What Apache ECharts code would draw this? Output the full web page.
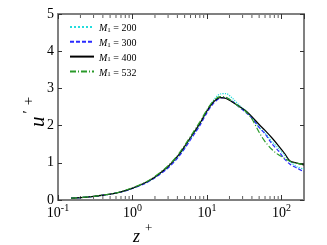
<!DOCTYPE html>
<html>
<head>
<meta charset="utf-8">
<script src="https://cdn.jsdelivr.net/npm/echarts@6/dist/echarts.min.js"></script>
<style>
  html, body { margin: 0; padding: 0; background: #fff; }
  #main { width: 327px; height: 245px; }
</style>
</head>
<body>
<div id="main"></div>
<script>
// z+ positions (shared by all runs)
var zPlus = [0.15, 0.2, 0.3, 0.5, 0.7, 1, 1.5, 2, 3, 4, 5, 6, 7, 8, 10, 12, 15, 18, 22, 27, 33, 40, 50, 60, 75, 90, 110, 130, 160, 200];

// u'+ for each M1
var m200 = [0.05, 0.065, 0.097, 0.157, 0.218, 0.315, 0.46, 0.61, 0.88, 1.14, 1.4, 1.64, 1.85, 2.04, 2.4, 2.66, 2.85, 2.86, 2.73, 2.55, 2.4, 2.22, 1.96, 1.8, 1.56, 1.4, 1.2, 1.03, 0.9, 0.83];
var m300 = [0.05, 0.064, 0.095, 0.155, 0.215, 0.31, 0.45, 0.6, 0.86, 1.12, 1.38, 1.62, 1.82, 2.0, 2.35, 2.58, 2.74, 2.75, 2.65, 2.5, 2.36, 2.2, 1.95, 1.78, 1.5, 1.33, 1.1, 0.96, 0.86, 0.76];
var m400 = [0.05, 0.065, 0.1, 0.16, 0.22, 0.32, 0.47, 0.62, 0.9, 1.17, 1.44, 1.68, 1.88, 2.06, 2.4, 2.62, 2.75, 2.73, 2.63, 2.52, 2.4, 2.24, 2.03, 1.87, 1.66, 1.47, 1.25, 1.05, 0.99, 0.94];
var m532 = [0.05, 0.066, 0.1, 0.162, 0.225, 0.33, 0.48, 0.635, 0.92, 1.2, 1.47, 1.71, 1.92, 2.1, 2.43, 2.65, 2.78, 2.76, 2.65, 2.5, 2.38, 2.18, 1.82, 1.57, 1.35, 1.22, 1.12, 1.04, 0.99, 0.95];

var seriesNames = ['200', '300', '400', '532'];
var seriesColors = ['#22dddd', '#2a2aff', '#000000', '#2a9a2a'];
var seriesDash = ['dotted', [4, 2], 'solid', [6, 2, 1, 2]];

// log minor tick positions
var minorTicks = [0.2, 0.3, 0.4, 0.5, 0.6, 0.7, 0.8, 0.9, 2, 3, 4, 5, 6, 7, 8, 9, 20, 30, 40, 50, 60, 70, 80, 90];

function pairs(ys) {
  return zPlus.map(function (z, i) { return [z, ys[i]]; });
}

var chart = echarts.init(document.getElementById('main'));

var serif = 'Liberation Serif';
var frame = '#808080';

var allSeries = [m200, m300, m400, m532].map(function (ys, i) {
  return {
    name: seriesNames[i],
    type: 'line',
    symbol: 'none',
    smooth: 0.3,
    data: pairs(ys),
    lineStyle: { color: seriesColors[i], width: 1.2, type: seriesDash[i] },
    itemStyle: { color: seriesColors[i] },
    z: 3 + i
  };
});

// minor ticks on bottom and top edges
allSeries.push({
  type: 'scatter',
  silent: true,
  clip: false,
  symbol: 'rect',
  symbolSize: [1, 3],
  symbolOffset: [0, -2.5],
  itemStyle: { color: '#333' },
  data: minorTicks.map(function (v) { return [v, 0]; }),
  z: 2
});
allSeries.push({
  type: 'scatter',
  silent: true,
  clip: false,
  symbol: 'rect',
  symbolSize: [1, 3],
  symbolOffset: [0, 2.5],
  itemStyle: { color: '#333' },
  data: minorTicks.map(function (v) { return [v, 5]; }),
  z: 2
});

var option = {
  animation: false,
  grid: { left: 58, right: 23, top: 14, bottom: 45 },
  legend: {
    orient: 'vertical',
    left: 64,
    top: 18,
    itemWidth: 24,
    itemHeight: 10,
    itemGap: 4.3,
    data: seriesNames,
    itemStyle: { opacity: 0 },
    formatter: function (name) { return '{i|M}{s|1}{n| = ' + name + '}'; },
    textStyle: {
      fontFamily: serif,
      fontSize: 10,
      color: '#000',
      rich: {
        i: { fontFamily: serif, fontStyle: 'italic', fontSize: 10, padding: [3, 0, 0, 0] },
        s: { fontFamily: serif, fontSize: 7, verticalAlign: 'bottom', padding: [5, 0, 0, 0] },
        n: { fontFamily: serif, fontSize: 10, padding: [3, 0, 0, 0] }
      }
    }
  },
  xAxis: [{
    type: 'log',
    logBase: 10,
    min: 0.1,
    max: 200,
    axisLine: { show: true, onZero: false, lineStyle: { color: frame, width: 2 } },
    axisTick: { inside: true, length: 5, lineStyle: { color: '#333' } },
    splitLine: { show: false },
    axisLabel: {
      showMaxLabel: false,
      margin: 3,
      formatter: function (v) {
        var e = Math.round(Math.log10(v));
        return '{n|10}{s|' + e + '}';
      },
      rich: {
        n: { fontFamily: serif, fontSize: 14, color: '#000', lineHeight: 14, padding: [6, 0, 0, 0] },
        s: { fontFamily: serif, fontSize: 10, color: '#000', lineHeight: 10, verticalAlign: 'top' }
      }
    }
  }, {
    type: 'log',
    logBase: 10,
    min: 0.1,
    max: 200,
    position: 'top',
    axisLine: { show: true, onZero: false, lineStyle: { color: frame, width: 2 } },
    axisTick: { inside: true, length: 5, lineStyle: { color: '#333' } },
    axisLabel: { show: false },
    splitLine: { show: false }
  }],
  yAxis: [{
    type: 'value',
    min: 0,
    max: 5,
    interval: 1,
    axisLine: { show: true, onZero: false, lineStyle: { color: frame, width: 2 } },
    axisTick: { show: true, inside: true, length: 4, lineStyle: { color: '#333' } },
    splitLine: { show: false },
    axisLabel: { fontFamily: serif, fontSize: 14, color: '#000', margin: 4 }
  }, {
    type: 'value',
    min: 0,
    max: 5,
    interval: 1,
    position: 'right',
    axisLine: { show: true, onZero: false, lineStyle: { color: frame, width: 2 } },
    axisTick: { show: true, inside: true, length: 4, lineStyle: { color: '#333' } },
    axisLabel: { show: false },
    splitLine: { show: false }
  }],
  graphic: [{
    type: 'text',
    left: 133,
    top: 222,
    style: {
      text: '{i|z}{s|+}',
      rich: {
        i: { fontFamily: serif, fontStyle: 'italic', fontSize: 18, padding: [6, 0, 0, 0] },
        s: { fontFamily: serif, fontSize: 13, verticalAlign: 'top', padding: [0, 0, 0, 5] }
      }
    }
  }, {
    type: 'text',
    x: 22,
    y: 127,
    rotation: Math.PI / 2,
    style: {
      text: '{i|u}{p|′}{s|+}',
      rich: {
        i: { fontFamily: serif, fontStyle: 'italic', fontSize: 21, padding: [6, 0, 0, 0] },
        p: { fontFamily: serif, fontSize: 15, verticalAlign: 'top', padding: [0, 0, 0, 3] },
        s: { fontFamily: serif, fontSize: 15, verticalAlign: 'top', padding: [0, 0, 0, 5] }
      }
    }
  }],
  series: allSeries
};

chart.setOption(option);
</script>
</body>
</html>
